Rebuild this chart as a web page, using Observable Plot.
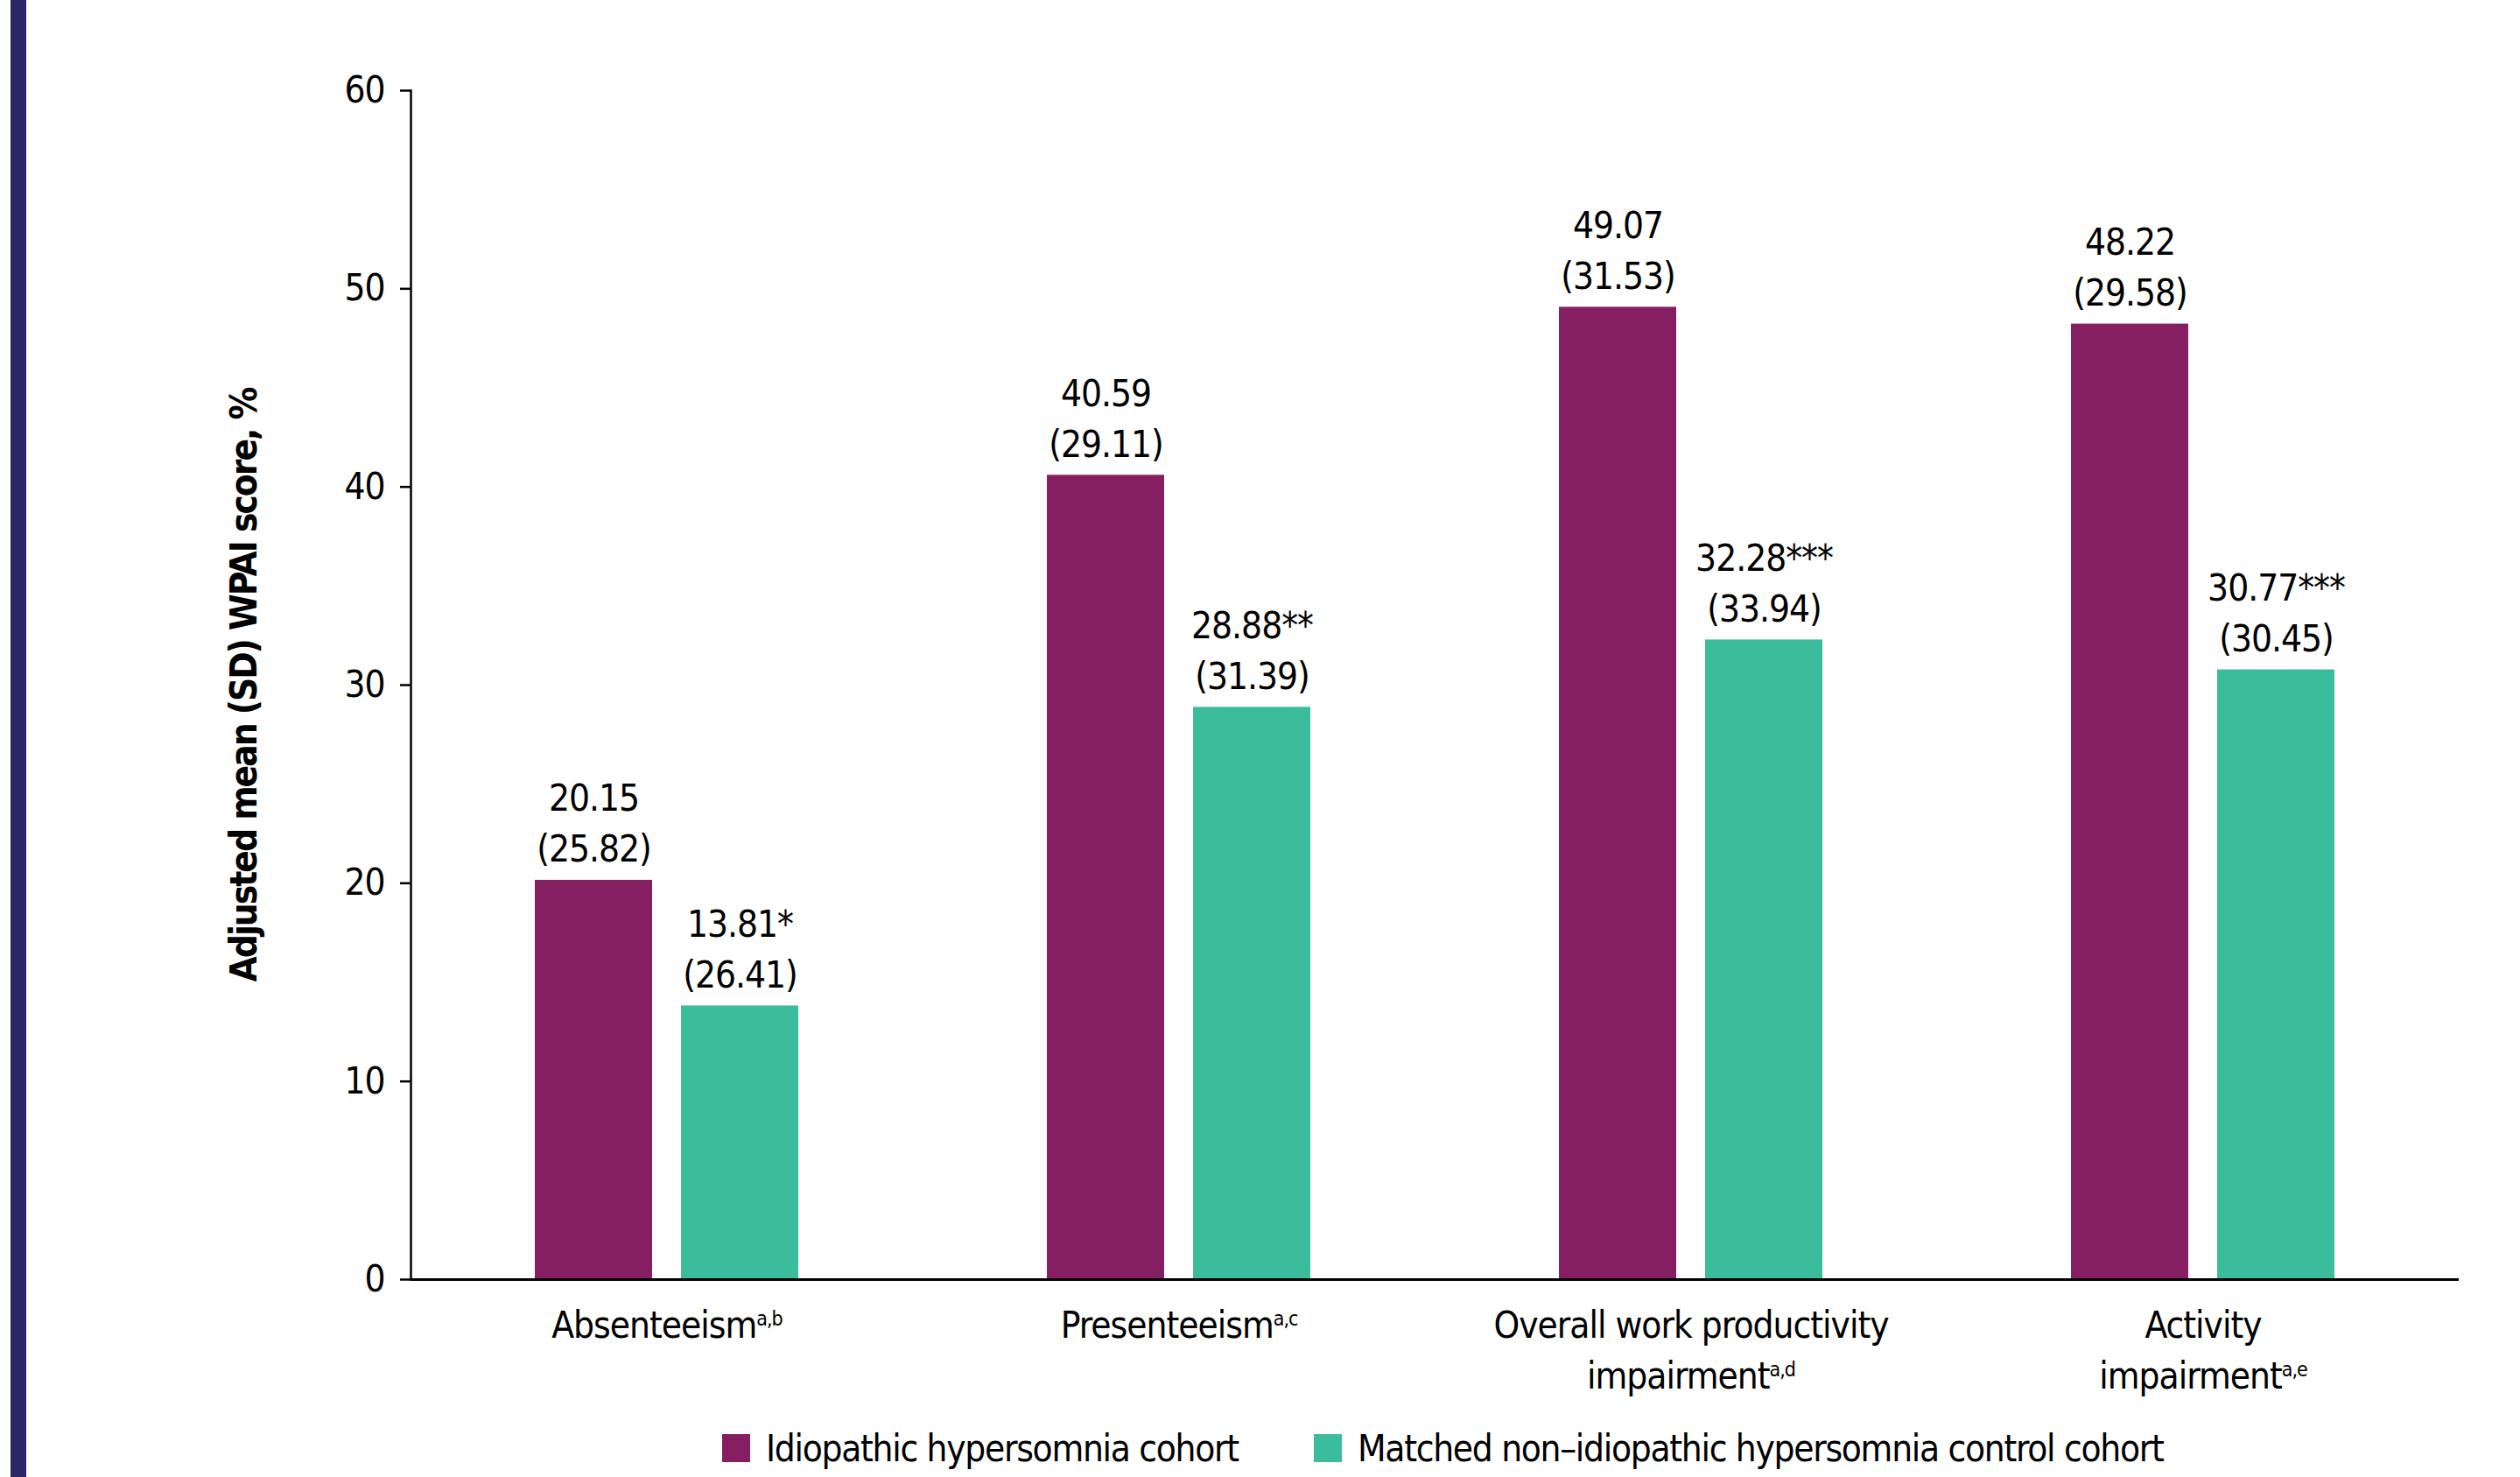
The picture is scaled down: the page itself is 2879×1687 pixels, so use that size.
<!DOCTYPE html>
<html>
<head>
<meta charset="utf-8">
<script src="https://cdn.jsdelivr.net/npm/d3@7"></script>
<script src="https://cdn.jsdelivr.net/npm/@observablehq/plot@0.6"></script>
<style>
html, body { margin: 0; padding: 0; background: #fff; }
body { width: 2879px; height: 1687px; position: relative; overflow: hidden;
  font-family: "Liberation Sans Narrow", "DejaVu Sans Condensed", "Liberation Sans", sans-serif; }
#chart { position: absolute; left: 0; top: 0; z-index: 1; }
#edge { position: absolute; left: 12px; top: 0; width: 18px; height: 1687px; background: #2b2766; z-index: 3; }
#legend { position: absolute; left: 825px; top: 1624px; height: 60px; display: flex; align-items: center;
  font-size: 42px; letter-spacing: -1.3px; color: #000; z-index: 2; }
#legend .item { display: flex; align-items: center; }
#legend .item:first-child { width: 676px; }
#legend .sw { width: 32px; height: 32px; margin-right: 18px; flex: none; }
#chart svg text { letter-spacing: -1px; }
g[aria-label="y-axis label"] text { font-weight: bold; letter-spacing: -2px !important; }
</style>
</head>
<body>
<div id="chart"></div>
<div id="edge"></div>
<div id="legend"></div>
<script>
const FONT = '"Liberation Sans Narrow", "DejaVu Sans Condensed", "Liberation Sans", sans-serif';

const categories = ["Absenteeism", "Presenteeism", "Overall work productivity\nimpairment", "Activity\nimpairment"];
const superscripts = ["a,b", "a,c", "a,d", "a,e"];
const cohorts = ["Idiopathic hypersomnia cohort", "Matched non\u2013idiopathic hypersomnia control cohort"];
const colors = ["#861f61", "#3bbd9d"];
const ihMean = [20.15, 40.59, 49.07, 48.22];
const ihSD = [25.82, 29.11, 31.53, 29.58];
const ctrlMean = [13.81, 28.88, 32.28, 30.77];
const ctrlSD = [26.41, 31.39, 33.94, 30.45];
const ctrlSig = ["*", "**", "***", "***"];
const yTicks = [0, 10, 20, 30, 40, 50, 60];
const yLabel = "Adjusted mean (SD) WPAI score, %";

const rows = [];
categories.forEach((c, i) => {
  rows.push({category: c, cohort: cohorts[0], value: ihMean[i], sd: ihSD[i], sig: ""});
  rows.push({category: c, cohort: cohorts[1], value: ctrlMean[i], sd: ctrlSD[i], sig: ctrlSig[i]});
});

const chart = Plot.plot({
  width: 2879,
  height: 1610,
  marginLeft: 468,
  marginRight: 70,
  marginTop: 103,
  marginBottom: 149,
  style: {fontFamily: FONT, fontSize: "42px", color: "#000", background: "#fff", overflow: "visible"},
  fx: {domain: categories, padding: 0, label: null},
  x: {domain: cohorts, paddingInner: 0.2, paddingOuter: 0.85, axis: null},
  y: {domain: [0, 60]},
  color: {domain: cohorts, range: colors},
  marks: [
    Plot.barY(rows, {fx: "category", x: "cohort", y: "value", fill: "cohort"}),
    Plot.text(rows, {
      fx: "category", x: "cohort", y: "value",
      text: d => `${d.value.toFixed(2)}${d.sig}\n(${d.sd.toFixed(2)})`,
      lineAnchor: "bottom", dy: -21, fontSize: 42, lineHeight: 1.38, fill: "#000"
    }),
    Plot.ruleY([0], {strokeWidth: 3, stroke: "#000"}),
    Plot.frame({anchor: "left", facetAnchor: "left", strokeWidth: 2.5, stroke: "#000"}),
    Plot.axisY({ticks: yTicks, tickSize: 12, tickPadding: 18, strokeWidth: 2.5, fontSize: 42,
      label: yLabel, labelAnchor: "center", labelOffset: 206, labelArrow: "none"}),
    Plot.axisFx({anchor: "bottom", tickSize: 0, tickPadding: 25, fontSize: 42, lineHeight: 1.38, label: null})
  ]
});

// superscript footnote markers on category labels
chart.querySelectorAll('g[aria-label="fx-axis tick label"] text').forEach(t => {
  const key = t.textContent;
  const i = categories.findIndex(c => c.replace(/\n/g, "") === key);
  if (i < 0) return;
  const tspans = t.querySelectorAll("tspan");
  const host = tspans.length ? tspans[tspans.length - 1] : t;
  const s = document.createElementNS("http://www.w3.org/2000/svg", "tspan");
  s.setAttribute("font-size", "23");
  s.setAttribute("dy", "-14");
  s.textContent = superscripts[i];
  host.appendChild(s);
});

document.getElementById("chart").appendChild(chart);

const legend = document.getElementById("legend");
cohorts.forEach((c, i) => {
  const item = document.createElement("div");
  item.className = "item";
  const sw = document.createElement("div");
  sw.className = "sw";
  sw.style.background = colors[i];
  const lab = document.createElement("span");
  lab.textContent = c;
  item.appendChild(sw);
  item.appendChild(lab);
  legend.appendChild(item);
});
</script>
</body>
</html>
